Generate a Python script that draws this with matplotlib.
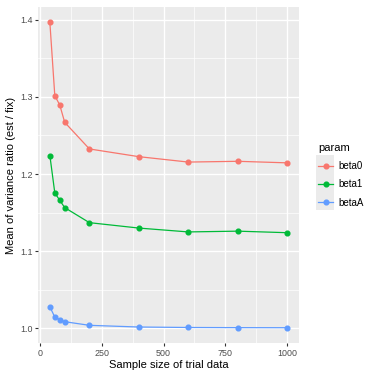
import matplotlib
matplotlib.use("Agg")
import matplotlib.pyplot as plt
from matplotlib.patches import Rectangle

plt.rcParams.update({"font.family": ["Liberation Sans", "DejaVu Sans"]})

sample_size = [40, 60, 80, 100, 200, 400, 600, 800, 1000]
beta0 = [1.3965, 1.3015, 1.2895, 1.267, 1.2325, 1.2225, 1.2155, 1.2165, 1.2145]
beta1 = [1.224, 1.1755, 1.166, 1.1565, 1.137, 1.130, 1.125, 1.126, 1.124]
betaA = [1.028, 1.0146, 1.0113, 1.0087, 1.004, 1.0018, 1.0012, 1.0010, 1.0009]
params = ["beta0", "beta1", "betaA"]
colors = ["#F8766D", "#00BA38", "#619CFF"]

W, H = 370, 376
fig = plt.figure(figsize=(W / 100, H / 100), dpi=100)
ax = fig.add_axes([38 / W, 1 - 343 / H, 261 / W, 336 / H])
ax.set_facecolor("#EBEBEB")

for name, vals, col in zip(params, [beta0, beta1, betaA], colors):
    ax.plot(sample_size, vals, color=col, lw=0.9, marker="o", ms=3.4,
            label=name, zorder=3)

ax.set_xlim(-8, 1048)
ax.set_ylim(0.9811, 1.4164)
ax.set_xticks([0, 250, 500, 750, 1000])
ax.set_xticks([125, 375, 625, 875], minor=True)
ax.set_yticks([1.0, 1.1, 1.2, 1.3, 1.4])
ax.set_yticks([1.05, 1.15, 1.25, 1.35], minor=True)
ax.set_yticklabels(["1.0", "1.1", "1.2", "1.3", "1.4"])
ax.grid(which="major", color="white", lw=1.0)
ax.grid(which="minor", color="white", lw=0.5)
ax.set_axisbelow(True)
for s in ax.spines.values():
    s.set_visible(False)
ax.tick_params(which="major", length=2.5, width=0.8, color="#333333",
               labelsize=6.4, labelcolor="#4D4D4D", pad=1.5)
ax.tick_params(which="minor", length=0)

ax.set_xlabel("Sample size of trial data", fontsize=8, labelpad=2)
ax.set_ylabel("Mean of variance ratio (est / fix)", fontsize=8, labelpad=3)

# legend key background
fig.patches.append(Rectangle((316 / W, 1 - 210 / H), 18 / W, 55 / H,
                             transform=fig.transFigure, facecolor="#EBEBEB",
                             edgecolor="none", zorder=-5))
leg = ax.legend(loc="upper left", bbox_to_anchor=(313 / W, 1 - 138 / H),
                bbox_transform=fig.transFigure, frameon=False, title="param",
                fontsize=7, title_fontsize=8, handlelength=1.6,
                handletextpad=0.5, labelspacing=0.85, borderpad=0)
leg._legend_box.align = "left"

fig.savefig("out.png", dpi=100)
